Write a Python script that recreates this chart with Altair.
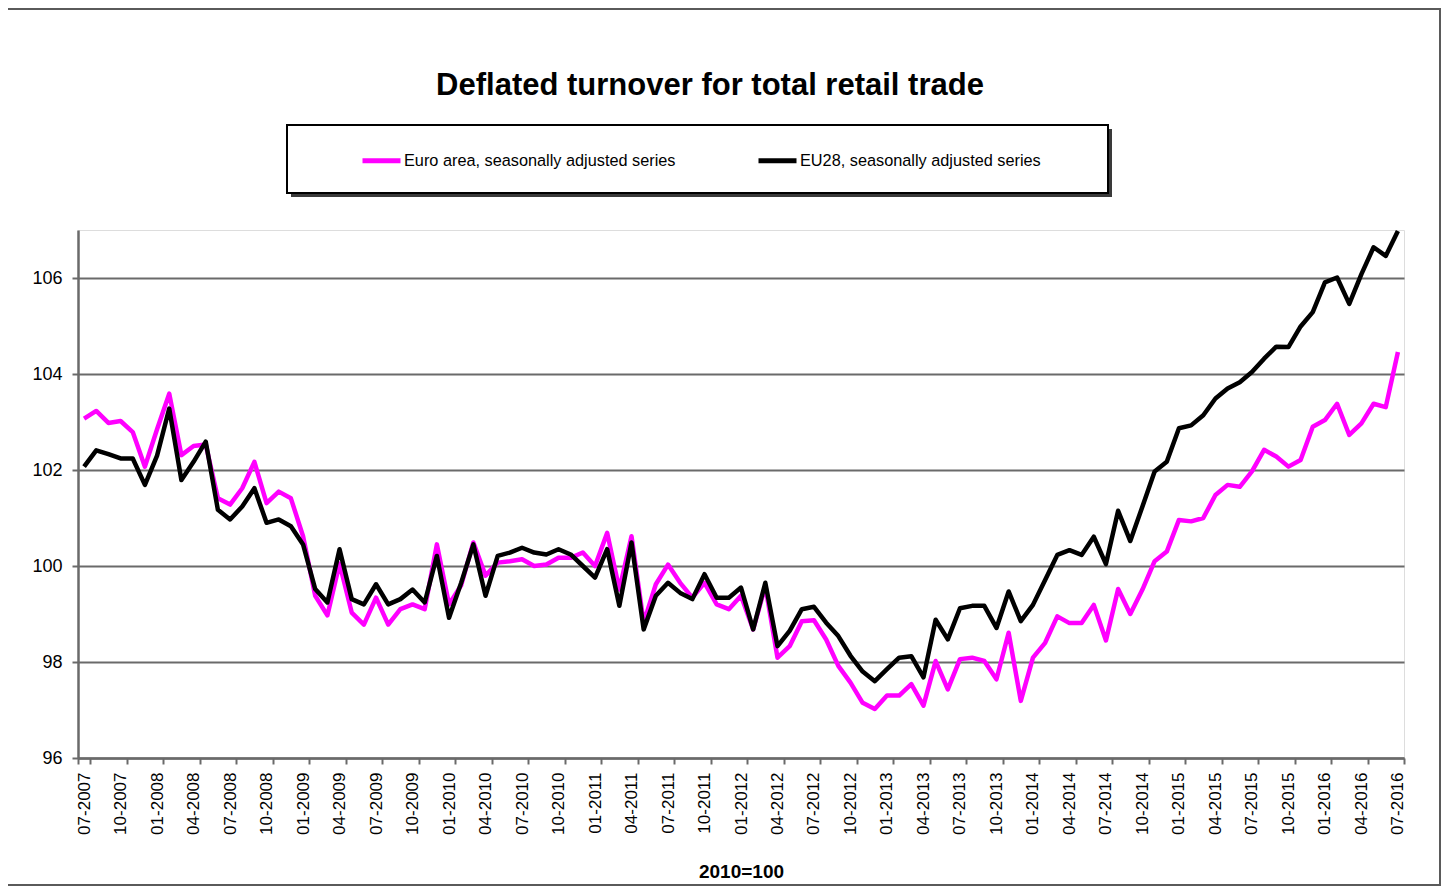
import altair as alt
import pandas as pd

# Categories: monthly periods 07-2007 .. 07-2016
all_months = [f"{m:02d}-{y}" for y in range(2007, 2017) for m in range(1, 13)]
months = all_months[all_months.index("07-2007"): all_months.index("07-2016") + 1]
axis_labels = months[::3]
y_ticks = [96, 98, 100, 102, 104, 106]

series_names = ["Euro area, seasonally adjusted series", "EU28, seasonally adjusted series"]
series_colors = ["#FF00FF", "#000000"]

euro_area = [
    103.07, 103.23, 102.98, 103.02, 102.79, 102.07, 102.85, 103.59, 102.31, 102.50,
    102.53, 101.41, 101.28, 101.62, 102.17, 101.31, 101.55, 101.41, 100.62, 99.38,
    98.97, 100.05, 99.03, 98.78, 99.34, 98.78, 99.10, 99.20, 99.10, 100.45,
    99.20, 99.60, 100.49, 99.80, 100.07, 100.10, 100.14, 100.00, 100.03, 100.17,
    100.17, 100.28, 100.00, 100.69, 99.51, 100.62, 98.82, 99.62, 100.03, 99.65,
    99.34, 99.65, 99.20, 99.10, 99.38, 98.68, 99.58, 98.09, 98.33, 98.85,
    98.87, 98.47, 97.92, 97.57, 97.15, 97.02, 97.30, 97.30, 97.54, 97.09,
    98.02, 97.43, 98.06, 98.09, 98.02, 97.64, 98.61, 97.19, 98.09, 98.40,
    98.95, 98.81, 98.81, 99.19, 98.45, 99.52, 99.00, 99.51, 100.10, 100.30,
    100.96, 100.93, 101.00, 101.48, 101.69, 101.65, 101.97, 102.42, 102.28, 102.07,
    102.21, 102.90, 103.04, 103.38, 102.73, 102.97, 103.38, 103.31, 104.46,
]

eu28 = [
    102.07, 102.41, 102.33, 102.24, 102.24, 101.69, 102.30, 103.28, 101.79, 102.17,
    102.59, 101.17, 100.97, 101.24, 101.62, 100.90, 100.97, 100.83, 100.45, 99.52,
    99.24, 100.35, 99.31, 99.20, 99.62, 99.20, 99.31, 99.51, 99.24, 100.21,
    98.92, 99.65, 100.45, 99.38, 100.21, 100.28, 100.38, 100.28, 100.24, 100.35,
    100.24, 100.00, 99.76, 100.35, 99.17, 100.49, 98.68, 99.38, 99.65, 99.44,
    99.31, 99.83, 99.34, 99.34, 99.55, 98.68, 99.65, 98.33, 98.65, 99.10,
    99.15, 98.82, 98.54, 98.13, 97.80, 97.60, 97.85, 98.09, 98.12, 97.68,
    98.88, 98.47, 99.12, 99.17, 99.17, 98.71, 99.47, 98.85, 99.19, 99.71,
    100.23, 100.33, 100.23, 100.61, 100.04, 101.15, 100.52, 101.24, 101.97, 102.17,
    102.87, 102.93, 103.14, 103.49, 103.70, 103.83, 104.04, 104.32, 104.57, 104.56,
    104.99, 105.29, 105.91, 106.01, 105.46, 106.08, 106.64, 106.46, 106.98,
]

df = pd.DataFrame({
    "month": months * 2,
    "value": euro_area + eu28,
    "series": [series_names[0]] * len(months) + [series_names[1]] * len(months),
})

FONT = "Liberation Sans"
W, H = 1326, 528

lines = alt.Chart(df).mark_line(strokeWidth=4.5, strokeJoin="round").encode(
    x=alt.X(
        "month:N",
        sort=months,
        bandPosition=0.5,
        scale=alt.Scale(type="band", paddingInner=0, paddingOuter=0),
        axis=alt.Axis(
            values=axis_labels,
            tickBand="extent",
            labelAngle=270,
            labelFont=FONT,
            labelFontSize=17,
            labelColor="#000000",
            labelPadding=8,
            tickSize=6,
            tickWidth=2,
            tickColor="#6a6a6a",
            domainColor="#6a6a6a",
            domainWidth=2.5,
            grid=False,
            title="2010=100",
            titleFont=FONT,
            titleFontSize=19,
            titleFontWeight="bold",
            titleColor="#000000",
            titleY=113,
            titleBaseline="middle",
        ),
    ),
    y=alt.Y(
        "value:Q",
        scale=alt.Scale(domain=[96, 107], nice=False, zero=False),
        axis=alt.Axis(
            values=y_ticks,
            labelFont=FONT,
            labelFontSize=18,
            labelColor="#000000",
            labelPadding=10,
            tickSize=6,
            tickWidth=2,
            tickColor="#6a6a6a",
            domainColor="#6a6a6a",
            domainWidth=2.5,
            grid=True,
            gridColor="#6a6a6a",
            gridWidth=2,
            title=None,
        ),
    ),
    color=alt.Color(
        "series:N",
        sort=series_names,
        scale=alt.Scale(domain=series_names, range=series_colors),
        legend=alt.Legend(
            orient="none",
            legendX=282,
            legendY=-91,
            direction="horizontal",
            title=None,
            symbolType="stroke",
            symbolSize=1444,
            symbolStrokeWidth=5,
            labelFont=FONT,
            labelFontSize=16.3,
            labelColor="#000000",
            labelLimit=500,
            labelOffset=1,
            columnPadding=72,
            padding=0,
        ),
    ),
)

deco = pd.DataFrame({"k": [0]})

frame = alt.Chart(deco).mark_rect(
    fillOpacity=0, stroke="#5a5a5a", strokeWidth=2
).encode(
    x=alt.value(-71), x2=alt.value(1362), y=alt.value(-221), y2=alt.value(655)
)

legend_shadow = alt.Chart(deco).mark_rect(fill="#3a3a3a").encode(
    x=alt.value(213), x2=alt.value(1034), y=alt.value(-101), y2=alt.value(-33)
)
legend_box = alt.Chart(deco).mark_rect(
    fill="#ffffff", stroke="#000000", strokeWidth=2
).encode(
    x=alt.value(209), x2=alt.value(1030), y=alt.value(-105), y2=alt.value(-37)
)

chart = alt.layer(frame, legend_shadow, legend_box, lines).properties(
    width=W,
    height=H,
    title=alt.TitleParams(
        text="Deflated turnover for total retail trade",
        font=FONT,
        fontSize=31,
        fontWeight="bold",
        color="#000000",
        anchor="middle",
        frame="group",
        dx=-31,
        offset=-118,
        baseline="alphabetic",
    ),
    autosize=alt.AutoSizeParams(type="none"),
    padding={"left": 70, "top": 222, "right": 38, "bottom": 130},
).configure_view(strokeWidth=0).configure(background="#ffffff")

chart.save("out.html", embed_options={"renderer": "svg", "actions": False})
